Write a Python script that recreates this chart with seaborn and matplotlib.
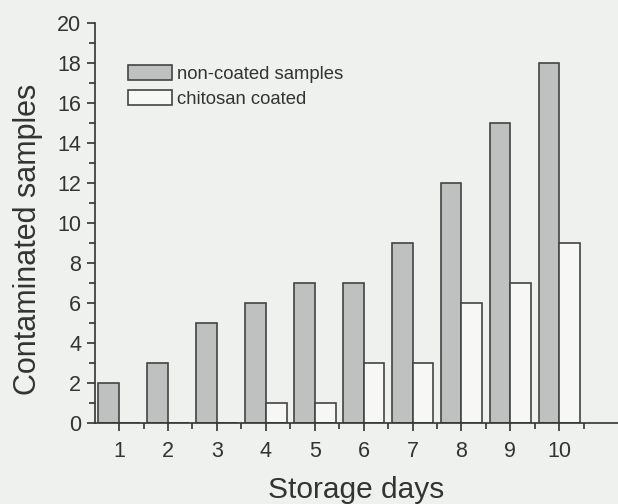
import numpy as np
import pandas as pd
import matplotlib
matplotlib.use("Agg")
import matplotlib.pyplot as plt
import seaborn as sns
from matplotlib.ticker import MultipleLocator, FixedLocator

days = [1, 2, 3, 4, 5, 6, 7, 8, 9, 10]
non_coated = [2, 3, 5, 6, 7, 7, 9, 12, 15, 18]
chitosan = [0, 0, 0, 1, 1, 3, 3, 6, 7, 9]
series = ["non-coated samples", "chitosan coated"]

df = pd.DataFrame({
    "day": days * 2,
    "count": non_coated + chitosan,
    "group": [series[0]] * len(days) + [series[1]] * len(days),
})

sns.set_style("ticks")
plt.rcParams["font.family"] = ["Liberation Sans", "DejaVu Sans"]

bg = "#eff1ee"
ink = "#333333"
fig = plt.figure(figsize=(6.18, 5.04), dpi=100, facecolor=bg)
ax = fig.add_axes([0.154, 0.161, 0.846, 0.793])
ax.set_facecolor(bg)

sns.barplot(data=df, x="day", y="count", hue="group", order=days, hue_order=series,
            palette={series[0]: "#bfc0c0", series[1]: "#f7f8f6"},
            edgecolor="#444444", linewidth=1.2, width=0.85, saturation=1,
            errorbar=None, ax=ax)

ax.set_ylim(0, 20)
ax.set_xlim(-0.49, 10.2)
ax.yaxis.set_major_locator(MultipleLocator(2))
ax.yaxis.set_minor_locator(MultipleLocator(1))
ax.xaxis.set_minor_locator(FixedLocator(np.arange(-0.5, 10, 1.0)))
ax.tick_params(axis="both", which="major", direction="out", length=6, width=1.2,
               labelsize=15.5, colors=ink, labelcolor=ink)
ax.tick_params(axis="both", which="minor", direction="out", length=4, width=1.2,
               colors=ink)
ax.tick_params(axis="x", pad=7)
ax.tick_params(axis="y", pad=4)

for side in ["top", "right"]:
    ax.spines[side].set_visible(False)
for side in ["left", "bottom"]:
    ax.spines[side].set_linewidth(1.2)
    ax.spines[side].set_color(ink)

ax.set_xlabel("Storage days", fontsize=21.5, color=ink, labelpad=10)
ax.set_ylabel("Contaminated samples", fontsize=22, color=ink)
ax.yaxis.set_label_coords(-0.100, 0.46)

handles, labels = ax.get_legend_handles_labels()
ax.legend(handles, labels, loc="upper left", bbox_to_anchor=(0.062, 0.895),
          frameon=False, fontsize=13.3, handlelength=2.4, handleheight=0.85,
          handletextpad=0.3, labelspacing=0.4, borderpad=0, borderaxespad=0,
          labelcolor=ink)

fig.savefig("out.png", dpi=100, facecolor=bg)
